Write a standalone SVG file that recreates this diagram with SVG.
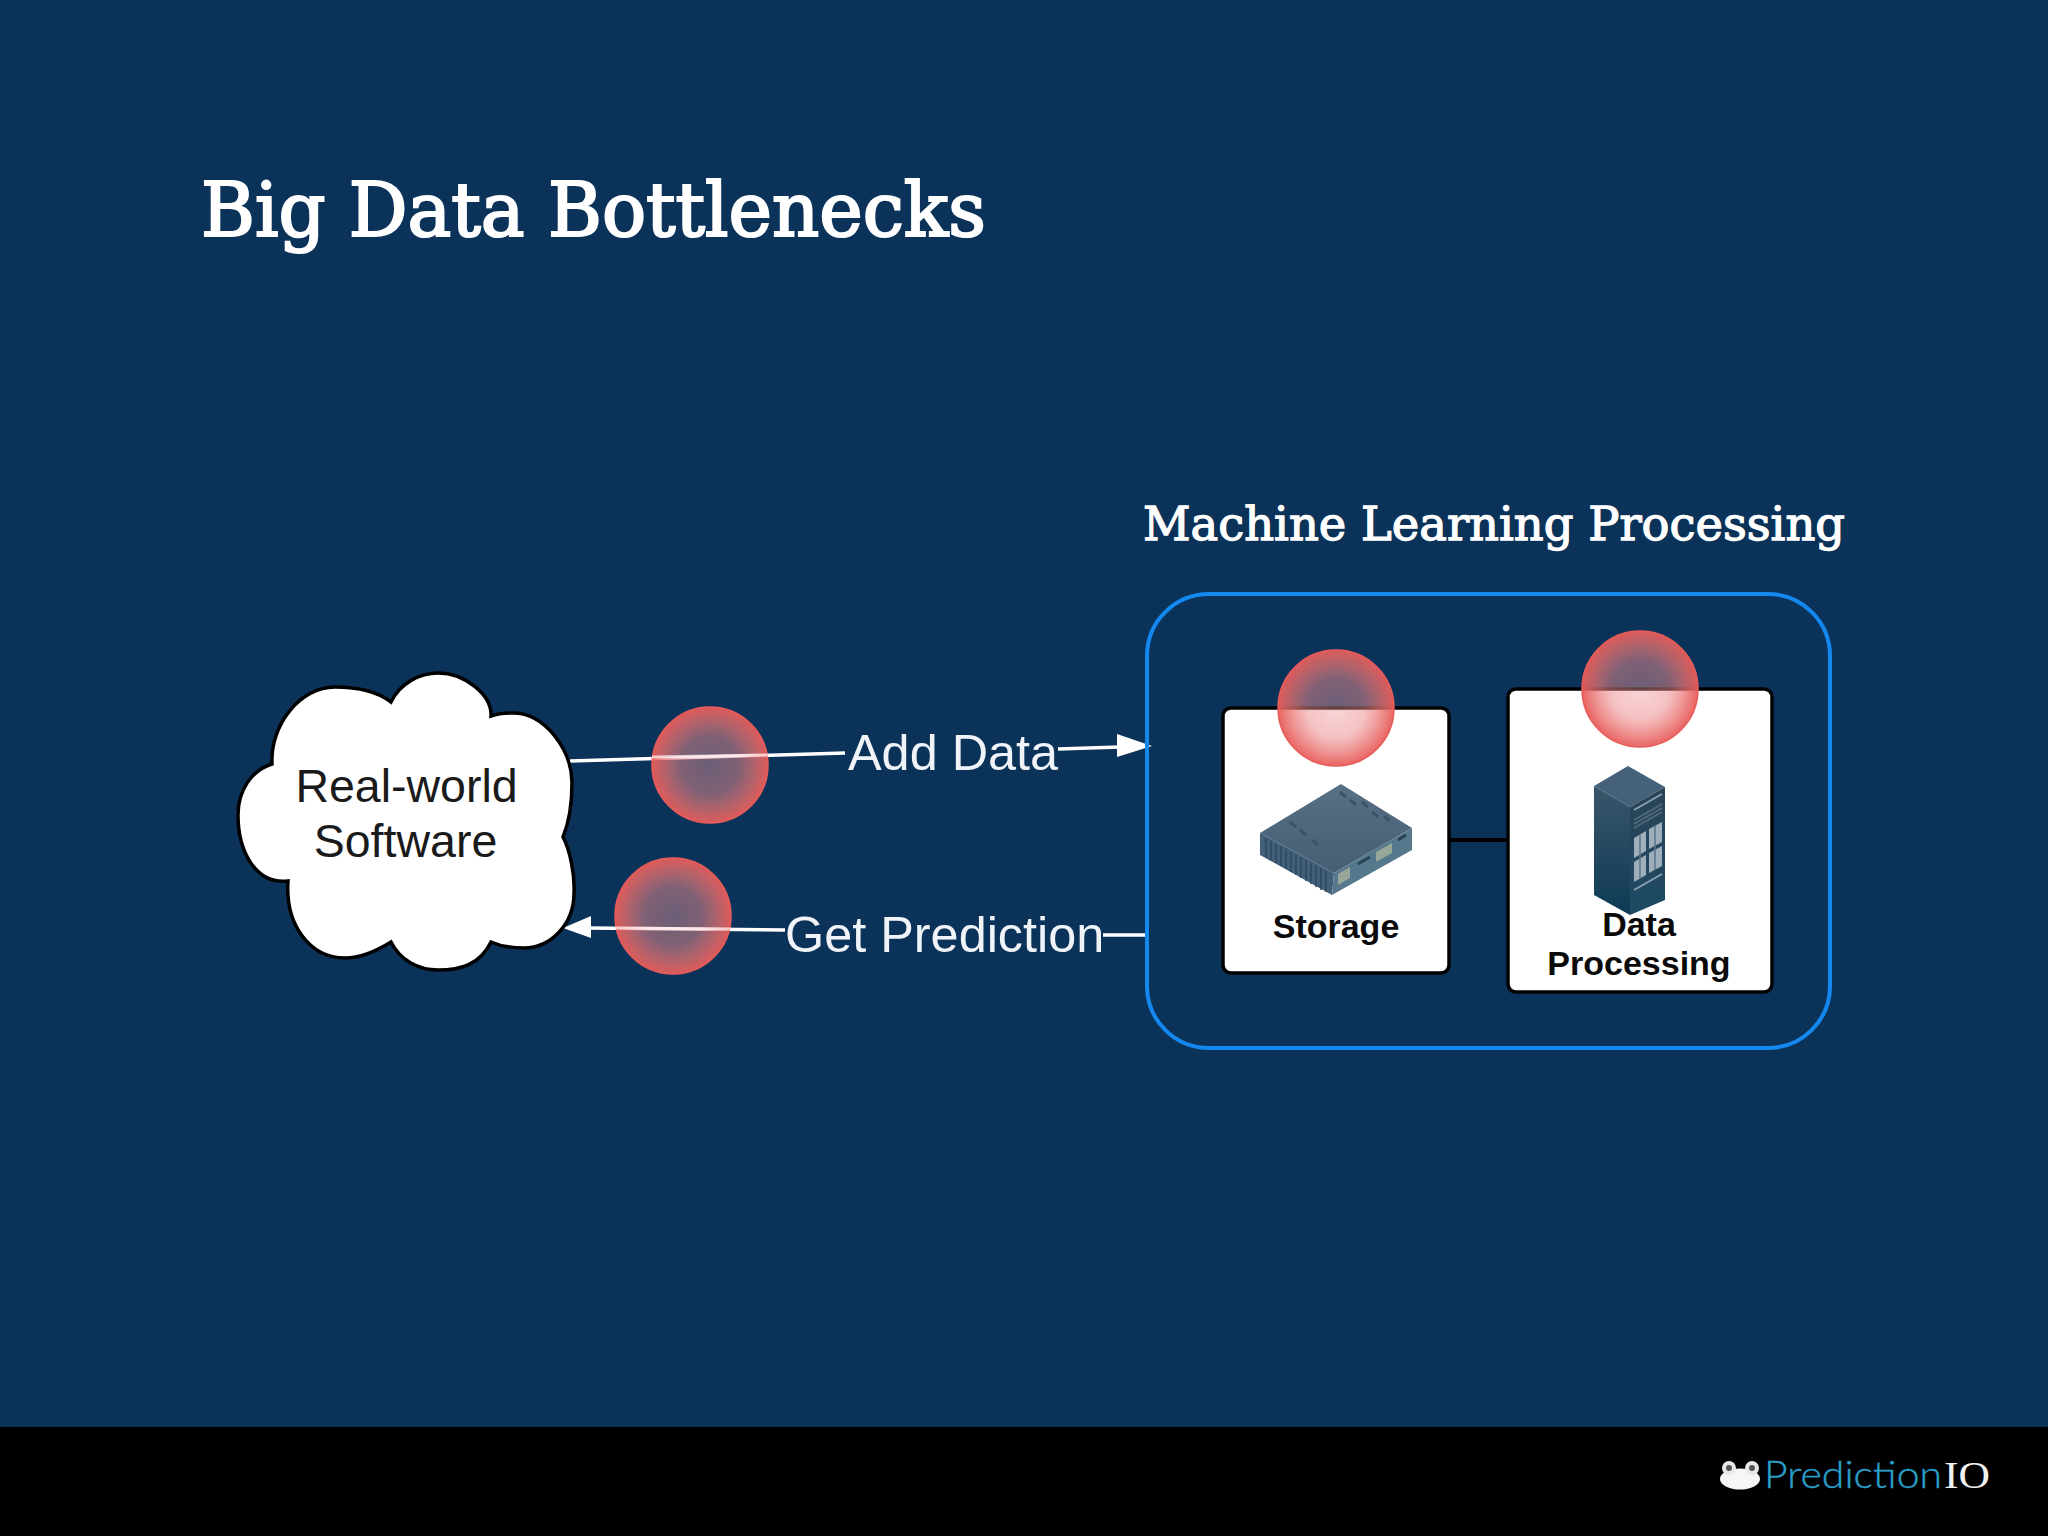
<svg xmlns="http://www.w3.org/2000/svg" width="2048" height="1536" viewBox="0 0 2048 1536">
<defs>
<radialGradient id="glow" cx="50%" cy="50%" r="50%">
<stop offset="0" stop-color="#ee9a9e" stop-opacity="0.42"/>
<stop offset="0.5" stop-color="#ec8a8c" stop-opacity="0.52"/>
<stop offset="0.85" stop-color="#e86a68" stop-opacity="0.82"/>
<stop offset="1" stop-color="#e85c5a" stop-opacity="0.95"/>
</radialGradient>
<linearGradient id="rackSide" x1="0" y1="0" x2="0" y2="1"><stop offset="0" stop-color="#3a566a"/><stop offset="1" stop-color="#0e3a55"/></linearGradient>
<linearGradient id="rackFront" x1="0" y1="0" x2="0" y2="1"><stop offset="0" stop-color="#2a4457"/><stop offset="1" stop-color="#1d4a64"/></linearGradient>
<linearGradient id="boxTop" x1="0" y1="0" x2="0" y2="1"><stop offset="0" stop-color="#586f84"/><stop offset="1" stop-color="#465f75"/></linearGradient>
</defs>
<style>
.sans{font-family:"Liberation Sans",Arial,sans-serif}
.serif{font-family:"DejaVu Serif","Liberation Serif",serif;fill:#fff;stroke:#fff}
.box{fill:#fff;stroke:#000;stroke-width:3.5}
.blabel{font-size:34px;font-weight:700;fill:#0a0a0a;text-anchor:middle}
.wire{stroke:#fff;stroke-width:3.5;fill:none}
.overlay{stroke:#fff;stroke-width:3;opacity:.65}
.elabel{font-size:50.4px;fill:#f0f4f8}
.bubble{fill:url(#glow);stroke:#e85c5a;stroke-width:1.5}
.head{fill:#fff}
</style>
<rect width="2048" height="1536" fill="#0b335a"/>
<rect y="1427" width="2048" height="109" fill="#000"/>
<text id="title" class="serif" x="201" y="236" font-size="74" stroke-width="2.2" textLength="785" lengthAdjust="spacingAndGlyphs">Big Data Bottlenecks</text>
<text id="group-title" class="serif" x="1143" y="540" font-size="47" stroke-width="1.3" textLength="702" lengthAdjust="spacingAndGlyphs">Machine Learning Processing</text>

<g id="connectors">
<path class="wire" d="M570 761 L845 753"/>
<path class="wire" d="M1058 749 L1120 747"/>
<polygon class="head" points="1117,734 1152,746 1117,757"/>
<path class="wire" d="M1147 935 L1103 935"/>
<path class="wire" d="M785 930 L588 928"/>
<polygon class="head" points="591,916 563,928 591,938"/>
<path d="M1449 840 L1509 840" stroke="#000" stroke-width="4" fill="none"/>
</g>

<g id="container"><rect x="1147" y="594" width="683" height="454" rx="62" ry="62" fill="none" stroke="#1388ee" stroke-width="4"/></g>

<g id="cloud">
<path d="M391 702 C400 683 420 673 438 673 C465 673 492 695 491 716 C500 713 505 713 513 713 C545 713 572 750 572 783 C572 805 568 825 563 837 C570 850 575 875 574 893 C574 925 550 948 524 948 C512 948 500 946 491 942 C480 965 460 970 438 970 C418 970 400 960 391 942 C375 952 360 958 345 958 C310 958 285 925 288 881 C255 885 238 850 238 815 C238 790 252 770 272 764 C270 725 300 687 335 687 C360 687 378 692 391 702 Z" fill="#fff" stroke="#000" stroke-width="3.5" stroke-linejoin="miter"/>
<text class="sans" x="406.500" y="802" font-size="46.500" text-anchor="middle" fill="#1a1a1a">Real-world</text>
<text class="sans" x="405.500" y="857" font-size="46.500" text-anchor="middle" fill="#1a1a1a">Software</text>
</g>

<g id="label-add-data"><text class="sans elabel" x="848" y="770">Add Data</text></g>
<g id="label-get-prediction"><text class="sans elabel" x="785" y="952">Get Prediction</text></g>

<g id="storage">
<rect class="box" x="1223" y="708" width="226" height="265" rx="8"/>
<polygon points="1341,784 1412,828 1334,873 1260,833" fill="url(#boxTop)"/>
<polygon points="1260,833 1334,873 1332,895 1260,855" fill="#43607a"/>
<polygon points="1334,873 1412,828 1412,850 1332,895" fill="#56788c"/>
<path d="M1266 838 V857 M1271 841 V860 M1276 844 V863 M1281 846 V866 M1286 849 V869 M1291 852 V872 M1296 855 V875 M1301 857 V878 M1306 860 V881 M1311 863 V884 M1316 865 V887 M1321 868 V890 M1326 871 V892" stroke="#2f485c" stroke-width="1.5"/>
<path d="M1338 874 L1350 867 V878 L1338 885 Z M1376 852 L1392 843 V853 L1376 862 Z" fill="#98a898"/>
<path d="M1358 864 L1370 857 M1398 840 L1406 835" stroke="#2a4254" stroke-width="3"/>
<path d="M1340 792 L1346 797 M1350 800 L1356 805 M1362 802 L1368 807 M1372 812 L1378 817 M1384 816 L1390 821 M1290 822 L1296 827 M1300 830 L1306 835 M1312 840 L1318 845" stroke="#3a5368" stroke-width="3"/>
<text class="sans blabel" x="1336" y="938">Storage</text>
</g>

<g id="data-processing">
<rect class="box" x="1508" y="689" width="264" height="303" rx="8"/>
<polygon points="1628,766 1665,787 1630,807 1594,786" fill="#46617a"/>
<polygon points="1594,786 1630,807 1630,915 1594,895" fill="url(#rackSide)"/>
<polygon points="1630,807 1665,787 1665,900 1630,915" fill="url(#rackFront)"/>
<path d="M1634 820 L1662 804 M1634 824 L1662 808 M1634 828 L1662 812" stroke="#52697a" stroke-width="2"/>
<polygon points="1634,838 1646,831 1646,851 1634,858" fill="#9eafbb"/>
<polygon points="1649,829 1662,822 1662,842 1649,849" fill="#9eafbb"/>
<polygon points="1634,862 1646,855 1646,875 1634,882" fill="#9eafbb"/>
<polygon points="1649,853 1662,846 1662,866 1649,873" fill="#9eafbb"/>
<path d="M1640 835 V878 M1655 826 V870" stroke="#5c7588" stroke-width="1.500"/>
<path d="M1634 810 L1662 794 M1634 890 L1662 874" stroke="#8aa2b2" stroke-width="2"/>
<text class="sans blabel" x="1639" y="936">Data</text>
<text class="sans blabel" x="1639" y="975">Processing</text>
</g>

<g id="bottleneck-1"><circle class="bubble" cx="710" cy="765" r="58"/><line class="overlay" x1="652" y1="757" x2="768" y2="755"/></g>
<g id="bottleneck-2"><circle class="bubble" cx="673" cy="916" r="58"/><line class="overlay" x1="615" y1="928" x2="731" y2="929"/></g>
<g id="bottleneck-3"><circle class="bubble" cx="1336" cy="708" r="58"/></g>
<g id="bottleneck-4"><circle class="bubble" cx="1640" cy="689" r="58"/></g>

<g id="logo">
<ellipse cx="1740" cy="1479" rx="20" ry="10.500" fill="#f6f6f6"/>
<circle cx="1729" cy="1468" r="7" fill="#e8e8e8"/><circle cx="1752" cy="1468" r="7" fill="#e8e8e8"/>
<circle cx="1729" cy="1468" r="3" fill="#555"/><circle cx="1752" cy="1468" r="3" fill="#555"/>
<text y="1488" font-size="37" font-family="Lato, sans-serif" font-weight="300"><tspan x="1764" fill="#2a9fc8" stroke="#2a9fc8" stroke-width=".4" textLength="178" lengthAdjust="spacingAndGlyphs">Prediction</tspan><tspan x="1944" fill="#f2f2f2" font-family="Liberation Serif, serif" textLength="46" lengthAdjust="spacingAndGlyphs">IO</tspan></text>
</g>
</svg>
